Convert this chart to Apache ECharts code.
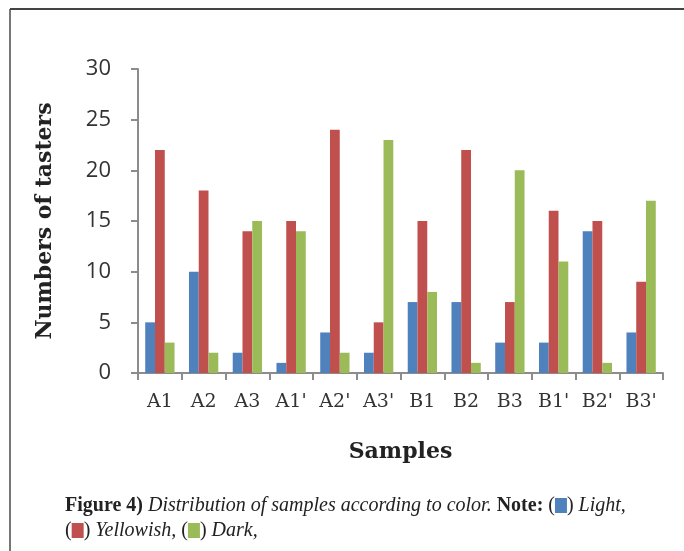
<!DOCTYPE html>
<html>
<head>
<meta charset="utf-8">
<script src="https://cdn.jsdelivr.net/npm/echarts@6/dist/echarts.min.js"></script>
<style>
  html, body { margin: 0; padding: 0; background: #fff; }
  #chart { width: 684px; height: 551px; }
</style>
</head>
<body>
<div id="chart"></div>
<script>
// Samples and taster counts per colour class
const samples = ["A1", "A2", "A3", "A1'", "A2'", "A3'", "B1", "B2", "B3", "B1'", "B2'", "B3'"];
const light = [5, 10, 2, 1, 4, 2, 7, 7, 3, 3, 14, 4];
const yellowish = [22, 18, 14, 15, 24, 5, 15, 22, 7, 16, 15, 9];
const dark = [3, 2, 15, 14, 2, 23, 8, 1, 20, 11, 1, 17];
const yTicks = { min: 0, max: 30, interval: 5 };

const BLUE = '#4F81BD', RED = '#C0504D', GREEN = '#9BBB59';
const AXIS = '#8c8c8c';
const serif = '"Liberation Serif", "DejaVu Serif", serif';
const wideSerif = '"DejaVu Serif", "Liberation Serif", serif';

const chart = echarts.init(document.getElementById('chart'));

function barSeries(name, data, color) {
  return {
    name, type: 'bar', data,
    barGap: '0%', barCategoryGap: '33%',
    itemStyle: { color },
    animation: false
  };
}

chart.setOption({
  backgroundColor: '#fff',
  animation: false,
  grid: { left: 138, right: 21, top: 69, bottom: 178, containLabel: false },
  xAxis: {
    type: 'category',
    data: samples,
    name: 'Samples',
    nameLocation: 'middle',
    nameGap: 68,
    nameTextStyle: { fontFamily: wideSerif, fontWeight: 'bold', fontSize: 22, color: '#222' },
    axisLine: { lineStyle: { color: AXIS, width: 2 } },
    axisTick: { show: true, length: 7, lineStyle: { color: AXIS, width: 2 }, alignWithLabel: false },
    axisLabel: { fontFamily: wideSerif, fontSize: 19, color: '#333', margin: 20, interval: 0 }
  },
  yAxis: {
    type: 'value',
    min: yTicks.min, max: yTicks.max, interval: yTicks.interval,
    name: 'Numbers of tasters',
    nameLocation: 'middle',
    nameGap: 82,
    nameTextStyle: { fontFamily: wideSerif, fontWeight: 'bold', fontSize: 22, color: '#222' },
    axisLine: { show: true, lineStyle: { color: AXIS, width: 2 } },
    axisTick: { show: true, length: 7, lineStyle: { color: AXIS, width: 2 } },
    axisLabel: { fontFamily: '"Open Sans", "Liberation Sans", sans-serif', fontSize: 22, color: '#333', margin: 27 },
    splitLine: { show: false }
  },
  series: [
    barSeries('Light', light, BLUE),
    barSeries('Yellowish', yellowish, RED),
    barSeries('Dark', dark, GREEN)
  ],
  graphic: [
    // frame (left and top edges)
    { type: 'line', shape: { x1: 10, y1: 9, x2: 10, y2: 551 }, style: { stroke: '#777', lineWidth: 2 } },
    { type: 'line', shape: { x1: 10, y1: 9, x2: 684, y2: 9 }, style: { stroke: '#444', lineWidth: 2 } },
    // caption
    {
      type: 'text', left: 65, top: 493,
      style: {
        text: '{b|Figure 4)} {i|Distribution of samples according to color.} {b|Note:} {n|(}{sb| }{n|)} {i|Light,}\n{n|(}{sr| }{n|)} {i|Yellowish,} {n|(}{sg| }{n|)} {i|Dark,}',
        fontFamily: serif, fontSize: 20, fill: '#222', lineHeight: 25,
        rich: {
          b: { fontFamily: serif, fontSize: 20, fontWeight: 'bold', fill: '#222' },
          i: { fontFamily: serif, fontSize: 20, fontStyle: 'italic', fill: '#222' },
          n: { fontFamily: serif, fontSize: 20, fill: '#222' },
          sb: { backgroundColor: BLUE, width: 12, height: 15, fontSize: 10 },
          sr: { backgroundColor: RED, width: 12, height: 15, fontSize: 10 },
          sg: { backgroundColor: GREEN, width: 12, height: 15, fontSize: 10 }
        }
      }
    }
  ]
});
</script>
</body>
</html>
